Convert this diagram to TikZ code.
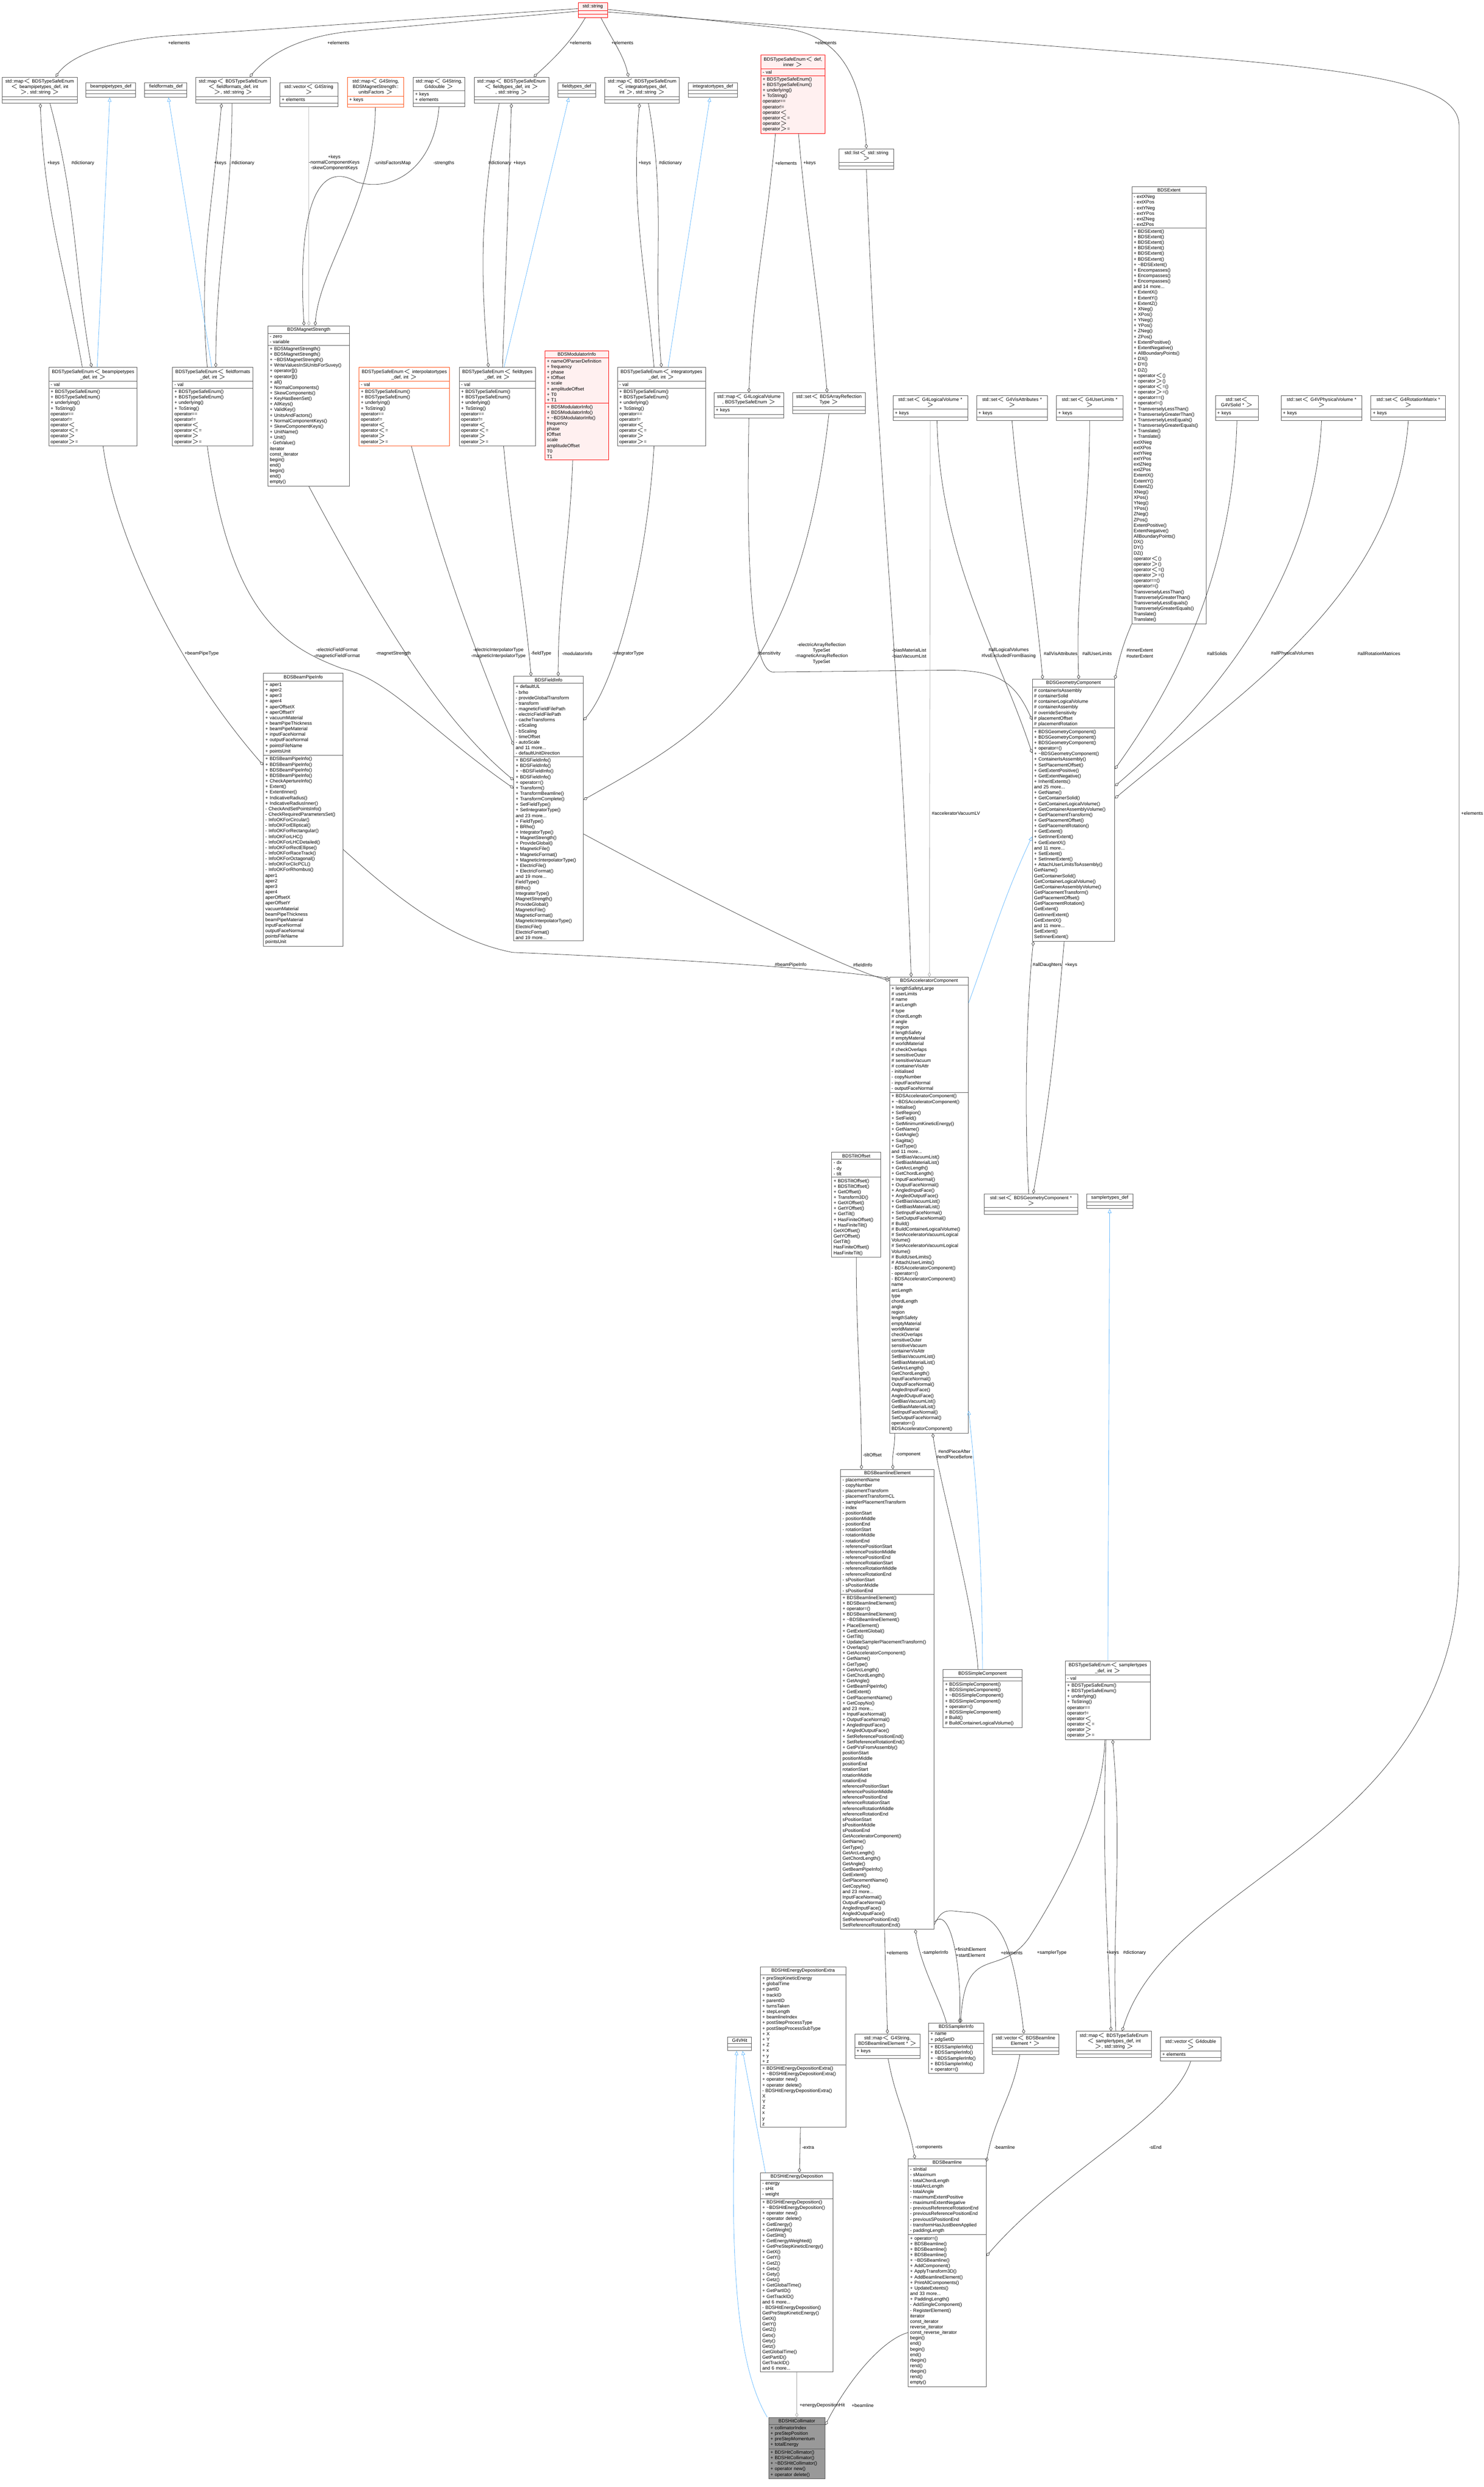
\documentclass[tikz,border=0pt]{standalone}
\usepackage{fontspec}
\setmainfont{Liberation Sans}
\usepackage{tikz}
\usetikzlibrary{arrows.meta}
\usetikzlibrary{shapes.multipart}
\definecolor{boxred}{RGB}{255,240,240}
\definecolor{inhblue}{RGB}{99,184,255}
\definecolor{orangered}{RGB}{255,80,20}
\definecolor{hitgray}{RGB}{153,153,153}

\begin{document}
\begin{tikzpicture}[
		umlbox/.style={rectangle split, rectangle split parts=3, draw=black!65, fill=white, line width=.35pt,
			font=\fontsize{3.6}{4.25}\selectfont, align=left, inner xsep=.05cm, inner ysep=.04cm,
			rectangle split empty part height=.1cm, anchor=north west},
		redbox/.style={draw=red, fill=boxred},
		orangebox/.style={draw=orangered},
		graybox/.style={fill=hitgray},
		lbl/.style={font=\fontsize{3.6}{4.25}\selectfont, align=center, inner sep=0},
		comp/.style={draw=black!75, line width=.3pt, {Diamond[open,length=3.6pt,width=2.4pt]}-},
		light/.style={draw=black!35},
		inh/.style={draw=inhblue, line width=.3pt, -{Triangle[open,length=3.2pt,width=2.8pt]}}]
	\useasboundingbox (0,0) rectangle (39.95,-66.98);

	% top row
	\node[umlbox,redbox,text width=.69cm] (str) at (15.56,-0.07) {{\centering std::string\par}\nodepart{two}\nodepart{three}};
	\node[umlbox,text width=1.92cm] (mapbp) at (0.05,-2.07) {{\centering std::map$<$ BDSTypeSafeEnum\\$<$ beampipetypes\_def, int\\ $>$, std::string $>$\par}\nodepart{two}\nodepart{three}};
	\node[umlbox,text width=1.24cm] (bpdef) at (2.31,-2.22) {{\centering beampipetypes\_def\par}\nodepart{two}\nodepart{three}};
	\node[umlbox,text width=1.04cm] (ffdef) at (3.89,-2.22) {{\centering fieldformats\_def\par}\nodepart{two}\nodepart{three}};
	\node[umlbox,text width=1.92cm] (mapff) at (5.26,-2.07) {{\centering std::map$<$ BDSTypeSafeEnum\\$<$ fieldformats\_def, int\\ $>$, std::string $>$\par}\nodepart{two}\nodepart{three}};
	\node[umlbox,text width=1.46cm] (vecstr) at (7.53,-2.22) {{\centering std::vector$<$ G4String $>$\par}\nodepart{two}+ elements\nodepart{three}};
	\node[umlbox,orangebox,text width=1.42cm] (mapuf) at (9.35,-2.07) {{\centering std::map$<$ G4String,\\ BDSMagnetStrength::\\unitsFactors $>$\par}\nodepart{two}+ keys\nodepart{three}};
	\node[umlbox,text width=1.29cm] (mapdbl) at (11.12,-2.07) {{\centering std::map$<$ G4String,\\ G4double $>$\par}\nodepart{two}+ keys\\+ elements\nodepart{three}};
	\node[umlbox,text width=1.91cm] (mapft) at (12.76,-2.07) {{\centering std::map$<$ BDSTypeSafeEnum\\$<$ fieldtypes\_def, int $>$\\, std::string $>$\par}\nodepart{two}\nodepart{three}};
	\node[umlbox,text width=.92cm] (ftdef) at (15.01,-2.22) {{\centering fieldtypes\_def\par}\nodepart{two}\nodepart{three}};
	\node[umlbox,text width=1.91cm] (mapit) at (16.28,-2.07) {{\centering std::map$<$ BDSTypeSafeEnum\\$<$ integratortypes\_def,\\ int $>$, std::string $>$\par}\nodepart{two}\nodepart{three}};
	\node[umlbox,text width=1.22cm] (itdef) at (18.53,-2.22) {{\centering integratortypes\_def\par}\nodepart{two}\nodepart{three}};
	\node[umlbox,redbox,text width=1.63cm] (endef) at (20.48,-1.48) {{\centering BDSTypeSafeEnum$<$ def,\\ inner $>$\par}\nodepart{two}- val\nodepart{three}+ BDSTypeSafeEnum()\\+ BDSTypeSafeEnum()\\+ underlying()\\+ ToString()\\* operator==\\* operator!=\\* operator$<$\\* operator$<$=\\* operator$>$\\* operator$>$=};
	\node[umlbox,text width=1.37cm] (lststr) at (22.59,-4.00) {{\centering std::list$<$ std::string $>$\par}\nodepart{two}\nodepart{three}};
	\node[umlbox,text width=1.90cm] (ext) at (30.47,-5.02) {{\centering BDSExtent\par}\nodepart{two}- extXNeg\\- extXPos\\- extYNeg\\- extYPos\\- extZNeg\\- extZPos\nodepart{three}+ BDSExtent()\\+ BDSExtent()\\+ BDSExtent()\\+ BDSExtent()\\+ BDSExtent()\\+ BDSExtent()\\+ \textasciitilde BDSExtent()\\+ Encompasses()\\+ Encompasses()\\+ Encompasses()\\and 14 more...\\+ ExtentX()\\+ ExtentY()\\+ ExtentZ()\\+ XNeg()\\+ XPos()\\+ YNeg()\\+ YPos()\\+ ZNeg()\\+ ZPos()\\+ ExtentPositive()\\+ ExtentNegative()\\+ AllBoundaryPoints()\\+ DX()\\+ DY()\\+ DZ()\\+ operator$<$()\\+ operator$>$()\\+ operator$<$=()\\+ operator$>$=()\\+ operator==()\\+ operator!=()\\+ TransverselyLessThan()\\+ TransverselyGreaterThan()\\+ TransverselyLessEquals()\\+ TransverselyGreaterEquals()\\+ Translate()\\+ Translate()\\* extXNeg\\* extXPos\\* extYNeg\\* extYPos\\* extZNeg\\* extZPos\\* ExtentX()\\* ExtentY()\\* ExtentZ()\\* XNeg()\\* XPos()\\* YNeg()\\* YPos()\\* ZNeg()\\* ZPos()\\* ExtentPositive()\\* ExtentNegative()\\* AllBoundaryPoints()\\* DX()\\* DY()\\* DZ()\\* operator$<$()\\* operator$>$()\\* operator$<$=()\\* operator$>$=()\\* operator==()\\* operator!=()\\* TransverselyLessThan()\\* TransverselyGreaterThan()\\* TransverselyLessEquals()\\* TransverselyGreaterEquals()\\* Translate()\\* Translate()};

	% second row
	\node[umlbox,text width=2.10cm] (ms) at (7.21,-8.77) {{\centering BDSMagnetStrength\par}\nodepart{two}- zero\\- variable\nodepart{three}+ BDSMagnetStrength()\\+ BDSMagnetStrength()\\+ \textasciitilde BDSMagnetStrength()\\+ WriteValuesInSIUnitsForSuvey()\\+ operator[]()\\+ operator[]()\\+ all()\\+ NormalComponents()\\+ SkewComponents()\\+ KeyHasBeenSet()\\+ AllKeys()\\+ ValidKey()\\+ UnitsAndFactors()\\+ NormalComponentKeys()\\+ SkewComponentKeys()\\+ UnitName()\\+ Unit()\\- GetValue()\\* iterator\\* const\_iterator\\* begin()\\* end()\\* begin()\\* end()\\* empty()};
	\node[umlbox,text width=2.28cm] (enbp) at (1.31,-9.89) {{\centering BDSTypeSafeEnum$<$ beampipetypes\\\_def, int $>$\par}\nodepart{two}- val\nodepart{three}+ BDSTypeSafeEnum()\\+ BDSTypeSafeEnum()\\+ underlying()\\+ ToString()\\* operator==\\* operator!=\\* operator$<$\\* operator$<$=\\* operator$>$\\* operator$>$=};
	\node[umlbox,text width=2.07cm] (enff) at (4.64,-9.89) {{\centering BDSTypeSafeEnum$<$ fieldformats\\\_def, int $>$\par}\nodepart{two}- val\nodepart{three}+ BDSTypeSafeEnum()\\+ BDSTypeSafeEnum()\\+ underlying()\\+ ToString()\\* operator==\\* operator!=\\* operator$<$\\* operator$<$=\\* operator$>$\\* operator$>$=};
	\node[umlbox,orangebox,text width=2.34cm] (enint) at (9.66,-9.89) {{\centering BDSTypeSafeEnum$<$ interpolatortypes\\\_def, int $>$\par}\nodepart{two}- val\nodepart{three}+ BDSTypeSafeEnum()\\+ BDSTypeSafeEnum()\\+ underlying()\\+ ToString()\\* operator==\\* operator!=\\* operator$<$\\* operator$<$=\\* operator$>$\\* operator$>$=};
	\node[umlbox,text width=1.95cm] (enft) at (12.36,-9.89) {{\centering BDSTypeSafeEnum$<$ fieldtypes\\\_def, int $>$\par}\nodepart{two}- val\nodepart{three}+ BDSTypeSafeEnum()\\+ BDSTypeSafeEnum()\\+ underlying()\\+ ToString()\\* operator==\\* operator!=\\* operator$<$\\* operator$<$=\\* operator$>$\\* operator$>$=};
	\node[umlbox,redbox,text width=1.61cm] (mod) at (14.67,-9.44) {{\centering BDSModulatorInfo\par}\nodepart{two}+ nameOfParserDefinition\\+ frequency\\+ phase\\+ tOffset\\+ scale\\+ amplitudeOffset\\+ T0\\+ T1\nodepart{three}+ BDSModulatorInfo()\\+ BDSModulatorInfo()\\+ \textasciitilde BDSModulatorInfo()\\* frequency\\* phase\\* tOffset\\* scale\\* amplitudeOffset\\* T0\\* T1};
	\node[umlbox,text width=2.27cm] (enit) at (16.62,-9.89) {{\centering BDSTypeSafeEnum$<$ integratortypes\\\_def, int $>$\par}\nodepart{two}- val\nodepart{three}+ BDSTypeSafeEnum()\\+ BDSTypeSafeEnum()\\+ underlying()\\+ ToString()\\* operator==\\* operator!=\\* operator$<$\\* operator$<$=\\* operator$>$\\* operator$>$=};
	\node[umlbox,text width=1.78cm] (maplv) at (19.22,-10.57) {{\centering std::map$<$ G4LogicalVolume\\ *, BDSTypeSafeEnum $>$\par}\nodepart{two}+ keys\nodepart{three}};
	\node[umlbox,text width=1.85cm] (setar) at (21.34,-10.57) {{\centering std::set$<$ BDSArrayReflection\\Type $>$\par}\nodepart{two}\nodepart{three}};
	\node[umlbox,text width=1.91cm] (setlv) at (24.04,-10.65) {{\centering std::set$<$ G4LogicalVolume * $>$\par}\nodepart{two}+ keys\nodepart{three}};
	\node[umlbox,text width=1.81cm] (setvis) at (26.29,-10.65) {{\centering std::set$<$ G4VisAttributes * $>$\par}\nodepart{two}+ keys\nodepart{three}};
	\node[umlbox,text width=1.69cm] (setul) at (28.44,-10.65) {{\centering std::set$<$ G4UserLimits * $>$\par}\nodepart{two}+ keys\nodepart{three}};
	\node[umlbox,text width=1.06cm] (setsol) at (32.72,-10.65) {{\centering std::set$<$ G4VSolid * $>$\par}\nodepart{two}+ keys\nodepart{three}};
	\node[umlbox,text width=2.08cm] (setpv) at (34.49,-10.65) {{\centering std::set$<$ G4VPhysicalVolume * $>$\par}\nodepart{two}+ keys\nodepart{three}};
	\node[umlbox,text width=1.91cm] (setrm) at (36.91,-10.65) {{\centering std::set$<$ G4RotationMatrix * $>$\par}\nodepart{two}+ keys\nodepart{three}};

	% third row
	\node[umlbox,text width=2.04cm] (bpi) at (7.09,-18.13) {{\centering BDSBeamPipeInfo\par}\nodepart{two}+ aper1\\+ aper2\\+ aper3\\+ aper4\\+ aperOffsetX\\+ aperOffsetY\\+ vacuumMaterial\\+ beamPipeThickness\\+ beamPipeMaterial\\+ inputFaceNormal\\+ outputFaceNormal\\+ pointsFileName\\+ pointsUnit\nodepart{three}+ BDSBeamPipeInfo()\\+ BDSBeamPipeInfo()\\+ BDSBeamPipeInfo()\\+ BDSBeamPipeInfo()\\+ CheckApertureInfo()\\+ Extent()\\+ ExtentInner()\\+ IndicativeRadius()\\+ IndicativeRadiusInner()\\- CheckAndSetPointsInfo()\\- CheckRequiredParametersSet()\\- InfoOKForCircular()\\- InfoOKForElliptical()\\- InfoOKForRectangular()\\- InfoOKForLHC()\\- InfoOKForLHCDetailed()\\- InfoOKForRectEllipse()\\- InfoOKForRaceTrack()\\- InfoOKForOctagonal()\\- InfoOKForClicPCL()\\- InfoOKForRhombus()\\* aper1\\* aper2\\* aper3\\* aper4\\* aperOffsetX\\* aperOffsetY\\* vacuumMaterial\\* beamPipeThickness\\* beamPipeMaterial\\* inputFaceNormal\\* outputFaceNormal\\* pointsFileName\\* pointsUnit};
	\node[umlbox,text width=1.77cm] (fi) at (13.83,-18.21) {{\centering BDSFieldInfo\par}\nodepart{two}+ defaultUL\\- brho\\- provideGlobalTransform\\- transform\\- magneticFieldFilePath\\- electricFieldFilePath\\- cacheTransforms\\- eScaling\\- bScaling\\- timeOffset\\- autoScale\\and 11 more...\\- defaultUnitDirection\nodepart{three}+ BDSFieldInfo()\\+ BDSFieldInfo()\\+ \textasciitilde BDSFieldInfo()\\+ BDSFieldInfo()\\+ operator=()\\+ Transform()\\+ TransformBeamline()\\+ TransformComplete()\\+ SetFieldType()\\+ SetIntegratorType()\\and 23 more...\\+ FieldType()\\+ BRho()\\+ IntegratorType()\\+ MagnetStrength()\\+ ProvideGlobal()\\+ MagneticFile()\\+ MagneticFormat()\\+ MagneticInterpolatorType()\\+ ElectricFile()\\+ ElectricFormat()\\and 19 more...\\* FieldType()\\* BRho()\\* IntegratorType()\\* MagnetStrength()\\* ProvideGlobal()\\* MagneticFile()\\* MagneticFormat()\\* MagneticInterpolatorType()\\* ElectricFile()\\* ElectricFormat()\\and 19 more...};
	\node[umlbox,text width=2.12cm] (geo) at (27.79,-18.29) {{\centering BDSGeometryComponent\par}\nodepart{two}\# containerIsAssembly\\\# containerSolid\\\# containerLogicalVolume\\\# containerAssembly\\\# overrideSensitivity\\\# placementOffset\\\# placementRotation\nodepart{three}+ BDSGeometryComponent()\\+ BDSGeometryComponent()\\+ BDSGeometryComponent()\\+ operator=()\\+ \textasciitilde BDSGeometryComponent()\\+ ContainerIsAssembly()\\+ SetPlacementOffset()\\+ GetExtentPositive()\\+ GetExtentNegative()\\+ InheritExtents()\\and 25 more...\\+ GetName()\\+ GetContainerSolid()\\+ GetContainerLogicalVolume()\\+ GetContainerAssemblyVolume()\\+ GetPlacementTransform()\\+ GetPlacementOffset()\\+ GetPlacementRotation()\\+ GetExtent()\\+ GetInnerExtent()\\+ GetExtentX()\\and 11 more...\\+ SetExtent()\\+ SetInnerExtent()\\+ AttachUserLimitsToAssembly()\\* GetName()\\* GetContainerSolid()\\* GetContainerLogicalVolume()\\* GetContainerAssemblyVolume()\\* GetPlacementTransform()\\* GetPlacementOffset()\\* GetPlacementRotation()\\* GetExtent()\\* GetInnerExtent()\\* GetExtentX()\\and 11 more...\\* SetExtent()\\* SetInnerExtent()};
	\node[umlbox,text width=2.02cm] (acc) at (23.95,-26.31) {{\centering BDSAcceleratorComponent\par}\nodepart{two}+ lengthSafetyLarge\\\# userLimits\\\# name\\\# arcLength\\\# type\\\# chordLength\\\# angle\\\# region\\\# lengthSafety\\\# emptyMaterial\\\# worldMaterial\\\# checkOverlaps\\\# sensitiveOuter\\\# sensitiveVacuum\\\# containerVisAttr\\- initialised\\- copyNumber\\- inputFaceNormal\\- outputFaceNormal\nodepart{three}+ BDSAcceleratorComponent()\\+ \textasciitilde BDSAcceleratorComponent()\\+ Initialise()\\+ SetRegion()\\+ SetField()\\+ SetMinimumKineticEnergy()\\+ GetName()\\+ GetAngle()\\+ Sagitta()\\+ GetType()\\and 11 more...\\+ SetBiasVacuumList()\\+ SetBiasMaterialList()\\+ GetArcLength()\\+ GetChordLength()\\+ InputFaceNormal()\\+ OutputFaceNormal()\\+ AngledInputFace()\\+ AngledOutputFace()\\+ GetBiasVacuumList()\\+ GetBiasMaterialList()\\+ SetInputFaceNormal()\\+ SetOutputFaceNormal()\\\# Build()\\\# BuildContainerLogicalVolume()\\\# SetAcceleratorVacuumLogical\\Volume()\\\# SetAcceleratorVacuumLogical\\Volume()\\\# BuildUserLimits()\\\# AttachUserLimits()\\- BDSAcceleratorComponent()\\- operator=()\\- BDSAcceleratorComponent()\\* name\\* arcLength\\* type\\* chordLength\\* angle\\* region\\* lengthSafety\\* emptyMaterial\\* worldMaterial\\* checkOverlaps\\* sensitiveOuter\\* sensitiveVacuum\\* containerVisAttr\\* SetBiasVacuumList()\\* SetBiasMaterialList()\\* GetArcLength()\\* GetChordLength()\\* InputFaceNormal()\\* OutputFaceNormal()\\* AngledInputFace()\\* AngledOutputFace()\\* GetBiasVacuumList()\\* GetBiasMaterialList()\\* SetInputFaceNormal()\\* SetOutputFaceNormal()\\* operator=()\\* BDSAcceleratorComponent()};
	\node[umlbox,text width=2.41cm] (setgc) at (26.50,-32.15) {{\centering std::set$<$ BDSGeometryComponent * $>$\par}\nodepart{two}\nodepart{three}};
	\node[umlbox,text width=1.15cm] (stdef) at (29.25,-32.15) {{\centering samplertypes\_def\par}\nodepart{two}\nodepart{three}};
	\node[umlbox,text width=1.22cm] (tilt) at (22.39,-31.03) {{\centering BDSTiltOffset\par}\nodepart{two}- dx\\- dy\\- tilt\nodepart{three}+ BDSTiltOffset()\\+ BDSTiltOffset()\\+ GetOffset()\\+ Transform3D()\\+ GetXOffset()\\+ GetYOffset()\\+ GetTilt()\\+ HasFiniteOffset()\\+ HasFiniteTilt()\\* GetXOffset()\\* GetYOffset()\\* GetTilt()\\* HasFiniteOffset()\\* HasFiniteTilt()};

	% lower part
	\node[umlbox,text width=2.42cm] (ble) at (22.63,-39.57) {{\centering BDSBeamlineElement\par}\nodepart{two}- placementName\\- copyNumber\\- placementTransform\\- placementTransformCL\\- samplerPlacementTransform\\- index\\- positionStart\\- positionMiddle\\- positionEnd\\- rotationStart\\- rotationMiddle\\- rotationEnd\\- referencePositionStart\\- referencePositionMiddle\\- referencePositionEnd\\- referenceRotationStart\\- referenceRotationMiddle\\- referenceRotationEnd\\- sPositionStart\\- sPositionMiddle\\- sPositionEnd\nodepart{three}+ BDSBeamlineElement()\\+ BDSBeamlineElement()\\+ operator=()\\+ BDSBeamlineElement()\\+ \textasciitilde BDSBeamlineElement()\\+ PlaceElement()\\+ GetExtentGlobal()\\+ GetTilt()\\+ UpdateSamplerPlacementTransform()\\+ Overlaps()\\+ GetAcceleratorComponent()\\+ GetName()\\+ GetType()\\+ GetArcLength()\\+ GetChordLength()\\+ GetAngle()\\+ GetBeamPipeInfo()\\+ GetExtent()\\+ GetPlacementName()\\+ GetCopyNo()\\and 23 more...\\+ InputFaceNormal()\\+ OutputFaceNormal()\\+ AngledInputFace()\\+ AngledOutputFace()\\+ SetReferencePositionEnd()\\+ SetReferenceRotationEnd()\\+ GetPVsFromAssembly()\\* positionStart\\* positionMiddle\\* positionEnd\\* rotationStart\\* rotationMiddle\\* rotationEnd\\* referencePositionStart\\* referencePositionMiddle\\* referencePositionEnd\\* referenceRotationStart\\* referenceRotationMiddle\\* referenceRotationEnd\\* sPositionStart\\* sPositionMiddle\\* sPositionEnd\\* GetAcceleratorComponent()\\* GetName()\\* GetType()\\* GetArcLength()\\* GetChordLength()\\* GetAngle()\\* GetBeamPipeInfo()\\* GetExtent()\\* GetPlacementName()\\* GetCopyNo()\\and 23 more...\\* InputFaceNormal()\\* OutputFaceNormal()\\* AngledInputFace()\\* AngledOutputFace()\\* SetReferencePositionEnd()\\* SetReferenceRotationEnd()};
	\node[umlbox,text width=2.02cm] (simple) at (25.39,-44.96) {{\centering BDSSimpleComponent\par}\nodepart{two}\nodepart{three}+ BDSSimpleComponent()\\+ BDSSimpleComponent()\\+ \textasciitilde BDSSimpleComponent()\\+ BDSSimpleComponent()\\+ operator=()\\+ BDSSimpleComponent()\\\# Build()\\\# BuildContainerLogicalVolume()};
	\node[umlbox,text width=2.19cm] (enst) at (28.68,-44.73) {{\centering BDSTypeSafeEnum$<$ samplertypes\\\_def, int $>$\par}\nodepart{two}- val\nodepart{three}+ BDSTypeSafeEnum()\\+ BDSTypeSafeEnum()\\+ underlying()\\+ ToString()\\* operator==\\* operator!=\\* operator$<$\\* operator$<$=\\* operator$>$\\* operator$>$=};
	\node[umlbox,text width=2.20cm] (hitx) at (20.47,-52.97) {{\centering BDSHitEnergyDepositionExtra\par}\nodepart{two}+ preStepKineticEnergy\\+ globalTime\\+ partID\\+ trackID\\+ parentID\\+ turnsTaken\\+ stepLength\\+ beamlineIndex\\+ postStepProcessType\\+ postStepProcessSubType\\+ X\\+ Y\\+ Z\\+ x\\+ y\\+ z\nodepart{three}+ BDSHitEnergyDepositionExtra()\\+ \textasciitilde BDSHitEnergyDepositionExtra()\\+ operator new()\\+ operator delete()\\- BDSHitEnergyDepositionExtra()\\* X\\* Y\\* Z\\* x\\* y\\* z};
	\node[umlbox,text width=.54cm] (vhit) at (19.59,-54.85) {{\centering G4VHit\par}\nodepart{two}\nodepart{three}};
	\node[umlbox,text width=1.66cm] (mapble) at (23.01,-54.77) {{\centering std::map$<$ G4String,\\ BDSBeamlineElement * $>$\par}\nodepart{two}+ keys\nodepart{three}};
	\node[umlbox,text width=1.38cm] (si) at (25.00,-54.48) {{\centering BDSSamplerInfo\par}\nodepart{two}+ name\\+ pdgSetID\nodepart{three}+ BDSSamplerInfo()\\+ BDSSamplerInfo()\\+ \textasciitilde BDSSamplerInfo()\\+ BDSSamplerInfo()\\+ operator=()};
	\node[umlbox,text width=1.69cm] (vecble) at (26.71,-54.77) {{\centering std::vector$<$ BDSBeamline\\Element * $>$\par}\nodepart{two}\nodepart{three}};
	\node[umlbox,text width=1.92cm] (mapst) at (28.98,-54.70) {{\centering std::map$<$ BDSTypeSafeEnum\\$<$ samplertypes\_def, int\\ $>$, std::string $>$\par}\nodepart{two}\nodepart{three}};
	\node[umlbox,text width=1.53cm] (vecdbl) at (31.24,-54.86) {{\centering std::vector$<$ G4double $>$\par}\nodepart{two}+ elements\nodepart{three}};
	\node[umlbox,text width=1.86cm] (hit) at (20.47,-58.51) {{\centering BDSHitEnergyDeposition\par}\nodepart{two}- energy\\- sHit\\- weight\nodepart{three}+ BDSHitEnergyDeposition()\\+ \textasciitilde BDSHitEnergyDeposition()\\+ operator new()\\+ operator delete()\\+ GetEnergy()\\+ GetWeight()\\+ GetSHit()\\+ GetEnergyWeighted()\\+ GetPreStepKineticEnergy()\\+ GetX()\\+ GetY()\\+ GetZ()\\+ Getx()\\+ Gety()\\+ Getz()\\+ GetGlobalTime()\\+ GetPartID()\\+ GetTrackID()\\and 6 more...\\- BDSHitEnergyDeposition()\\* GetPreStepKineticEnergy()\\* GetX()\\* GetY()\\* GetZ()\\* Getx()\\* Gety()\\* Getz()\\* GetGlobalTime()\\* GetPartID()\\* GetTrackID()\\and 6 more...};
	\node[umlbox,text width=2.00cm] (bl) at (24.45,-58.14) {{\centering BDSBeamline\par}\nodepart{two}- sInitial\\- sMaximum\\- totalChordLength\\- totalArcLength\\- totalAngle\\- maximumExtentPositive\\- maximumExtentNegative\\- previousReferenceRotationEnd\\- previousReferencePositionEnd\\- previousSPositionEnd\\- transformHasJustBeenApplied\\- paddingLength\nodepart{three}+ operator=()\\+ BDSBeamline()\\+ BDSBeamline()\\+ BDSBeamline()\\+ \textasciitilde BDSBeamline()\\+ AddComponent()\\+ ApplyTransform3D()\\+ AddBeamlineElement()\\+ PrintAllComponents()\\+ UpdateExtents()\\and 33 more...\\+ PaddingLength()\\- AddSingleComponent()\\- RegisterElement()\\* iterator\\* const\_iterator\\* reverse\_iterator\\* const\_reverse\_iterator\\* begin()\\* end()\\* begin()\\* end()\\* rbegin()\\* rend()\\* rbegin()\\* rend()\\* empty()};
	\node[umlbox,graybox,text width=1.42cm] (coll) at (20.69,-65.10) {{\centering BDSHitCollimator\par}\nodepart{two}+ collimatorIndex\\+ preStepPosition\\+ preStepMomentum\\+ totalEnergy\nodepart{three}+ BDSHitCollimator()\\+ BDSHitCollimator()\\+ \textasciitilde BDSHitCollimator()\\+ operator new()\\+ operator delete()};

	% std::string members
	\draw[comp] ([xshift=.43cm]mapbp.north) .. controls (1.9,-1.5) and (3.0,-1.05) .. (4.8,-0.95) -- ([yshift=.04cm]str.west);
	\draw[comp] ([xshift=.45cm]mapff.north) .. controls (7.2,-1.5) and (8.0,-1.0) .. (9.4,-0.85) -- ([yshift=-.03cm]str.west);
	\draw[comp] ([xshift=.60cm]mapft.north) .. controls (14.9,-1.6) and (15.4,-1.1) .. ([xshift=-.2cm]str.south);
	\draw[comp] ([xshift=-.37cm]mapit.north) .. controls (16.8,-1.5) and (16.5,-1.1) .. ([xshift=.22cm]str.south);
	\draw[comp] (lststr.north) .. controls (23.2,-2.0) and (22.6,-0.9) .. (21.0,-0.75) -- ([yshift=.02cm]str.east);
	\draw[comp] ([xshift=.22cm]mapst.north) .. controls (31.5,-50.5) and (39.29,-49.5) .. (39.29,-42) -- (39.29,-3.4) .. controls (39.29,-2.4) and (37.5,-2.0) .. (33,-1.6) -- ([yshift=-.05cm]str.east);
	\node[lbl] (l1) at (4.82,-1.15) {+elements};
	\node[lbl] (l2) at (9.11,-1.15) {+elements};
	\node[lbl] (l3) at (15.63,-1.15) {+elements};
	\node[lbl] (l4) at (16.76,-1.15) {+elements};
	\node[lbl] (l5) at (22.23,-1.15) {+elements};
	\node[lbl] (l6) at (39.64,-21.90) {+elements};

	% enums and their maps
	\draw[comp] ([xshift=.02cm]mapbp.south) to[out=-88,in=100] ([xshift=-.29cm]enbp.north);
	\draw[comp] ([xshift=-.04cm]enbp.north) to[out=100,in=-75] ([xshift=.28cm]mapbp.south);
	\draw[inh] ([xshift=.11cm]enbp.north) -- ([xshift=-.03cm]bpdef.south);
	\draw[comp] ([xshift=-.31cm]mapff.south) to[out=-95,in=95] ([xshift=-.15cm]enff.north);
	\draw[comp] ([xshift=.08cm]enff.north) to[out=90,in=-90] ([xshift=-.03cm]mapff.south);
	\draw[inh] ([xshift=-.03cm]enff.north) -- ([xshift=.07cm]ffdef.south);
	\draw[comp] (mapft.south) -- ([xshift=.14cm]enft.north);
	\draw[comp] ([xshift=-.24cm]enft.north) to[out=95,in=-100] ([xshift=-.33cm]mapft.south);
	\draw[inh] ([xshift=.18cm]enft.north) -- ([xshift=-.21cm]ftdef.south);
	\draw[comp] ([xshift=-.07cm]mapit.south) to[out=-95,in=95] ([xshift=-.2cm]enit.north);
	\draw[comp] (enit.north) to[out=95,in=-80] ([xshift=.17cm]mapit.south);
	\draw[inh] ([xshift=.18cm]enit.north) -- ([xshift=-.08cm]itdef.south);
	\draw[comp] ([xshift=-.08cm]mapst.north) to[out=92,in=-92] ([xshift=-.05cm]enst.south);
	\draw[comp] ([xshift=.13cm]enst.south) to[out=-85,in=92] ([xshift=.05cm]mapst.north);
	\draw[inh] (enst.north) -- (stdef.south);
	\node[lbl] (l7) at (1.44,-4.39) {+keys};
	\node[lbl] (l8) at (2.23,-4.39) {\#dictionary};
	\node[lbl] (l9) at (5.93,-4.39) {+keys};
	\node[lbl] (l10) at (6.54,-4.39) {\#dictionary};
	\node[lbl] (l11) at (13.46,-4.39) {\#dictionary};
	\node[lbl] (l12) at (13.99,-4.39) {+keys};
	\node[lbl] (l13) at (17.36,-4.39) {+keys};
	\node[lbl] (l14) at (18.05,-4.39) {\#dictionary};
	\node[lbl] (l15) at (29.96,-52.59) {+keys};
	\node[lbl] (l16) at (30.55,-52.59) {\#dictionary};

	% BDSMagnetStrength
	\draw[comp,light] (ms.north) -- (vecstr.south);
	\draw[comp] ([xshift=.17cm]ms.north) .. controls (8.6,-7.2) and (10.1,-5.4) .. ([xshift=-.01cm]mapuf.south);
	\draw[comp] ([xshift=-.13cm]ms.north) .. controls (8.0,-5.5) and (8.6,-4.3) .. (9.6,-4.9) .. controls (10.6,-5.2) and (11.7,-4.5) .. (mapdbl.south);
	\node[lbl] (l17) at (9.00,-4.38) {+keys\\-normalComponentKeys\\-skewComponentKeys};
	\node[lbl] (l18) at (10.57,-4.39) {-unitsFactorsMap};
	\node[lbl] (l19) at (11.95,-4.39) {-strengths};

	% BDSTypeSafeEnum< def, inner >
	\draw[comp] (maplv.north) to[out=88,in=-95] ([xshift=-.47cm]endef.south);
	\draw[comp] ([xshift=-.05cm]setar.north) to[out=95,in=-85] ([xshift=.15cm]endef.south);
	\node[lbl] (l20) at (21.16,-4.39) {+elements};
	\node[lbl] (l21) at (21.80,-4.39) {+keys};

	% BDSFieldInfo and BDSBeamPipeInfo
	\draw[comp] ([yshift=-2.48cm]bpi.north west) .. controls (4.8,-18.0) and (3.1,-14.5) .. ([xshift=.27cm]enbp.south);
	\draw[comp] ([yshift=-3.02cm]fi.north west) .. controls (11.5,-19.6) and (10.5,-18.3) .. (9.2,-18.0) .. controls (7.6,-17.4) and (6.2,-16.5) .. ([xshift=-.15cm]enff.south);
	\draw[comp] ([yshift=-2.80cm]fi.north west) .. controls (12.0,-19.5) and (10.4,-17.0) .. (ms.south);
	\draw[comp] ([yshift=-1.86cm]fi.north west) .. controls (12.8,-17.5) and (12.0,-15.5) .. ([xshift=.19cm]enint.south);
	\draw[comp] ([xshift=-.47cm]fi.north) to[out=95,in=-85] ([xshift=.17cm]enft.south);
	\draw[comp] ([xshift=.26cm]fi.north) to[out=90,in=-92] ([xshift=-.11cm]mod.south);
	\draw[comp] ([yshift=-1.19cm]fi.north east) .. controls (16.5,-18.5) and (17.4,-15.5) .. ([xshift=-.2cm]enit.south);
	\draw[comp] ([yshift=-3.33cm]fi.north east) .. controls (18.8,-19.8) and (21.5,-18.5) .. (setar.south);
	\node[lbl] (l22) at (5.43,-17.60) {+beamPipeType};
	\node[lbl] (l23) at (9.07,-17.59) {-electricFieldFormat\\-magneticFieldFormat};
	\node[lbl] (l24) at (10.59,-17.60) {-magnetStrength};
	\node[lbl] (l25) at (13.42,-17.59) {-electricInterpolatorType\\-magneticInterpolatorType};
	\node[lbl] (l26) at (14.57,-17.60) {-fieldType};
	\node[lbl] (l27) at (15.54,-17.60) {-modulatorInfo};
	\node[lbl] (l28) at (16.91,-17.60) {-integratorType};

	% BDSGeometryComponent
	\draw[comp] ([yshift=-1.10cm]geo.north west) .. controls (27.3,-18.3) and (26.8,-18.05) .. (25.5,-18.05) -- (20.8,-18.1) .. controls (20.2,-18.0) and (20.1,-15) .. (maplv.south);
	\draw[comp] ([yshift=-1.99cm]geo.north west) .. controls (26.9,-17.6) and (25.3,-15) .. ([xshift=.18cm]setlv.south);
	\draw[comp] ([xshift=-.83cm]geo.north) to[out=95,in=-85] (setvis.south);
	\draw[comp] ([xshift=.14cm]geo.north) to[out=92,in=-90] (setul.south);
	\draw[comp] (geo.north east) .. controls (30.2,-17.4) and (30.4,-17.0) .. (ext.south west);
	\draw[comp] ([yshift=-2.42cm]geo.north east) .. controls (31.6,-18.5) and (33.2,-15.5) .. (setsol.south);
	\draw[comp] ([yshift=-2.88cm]geo.north east) .. controls (32.8,-18.8) and (35.4,-15.5) .. (setpv.south);
	\draw[comp] ([yshift=-3.21cm]geo.north east) .. controls (33.5,-18.6) and (37.6,-16.0) .. (setrm.south);
	\draw[comp] ([xshift=-1.08cm]geo.south) .. controls (27.6,-27.5) and (27.6,-30.5) .. ([xshift=-.06cm]setgc.north);
	\draw[comp] ([xshift=.06cm]setgc.north) to[out=80,in=-95] ([xshift=-.25cm]geo.south);
	\draw[inh] ([yshift=-.70cm]acc.north east) to[out=70,in=-115] ([yshift=-.71cm]geo.west);
	\node[lbl] (l29) at (20.71,-17.60) {\#sensitivity};
	\node[lbl] (l30) at (22.12,-17.60) {-electricArrayReflection\\TypeSet\\-magneticArrayReflection\\TypeSet};
	\node[lbl] (l31) at (27.16,-17.59) {\#allLogicalVolumes\\\#lvsExcludedFromBiasing};
	\node[lbl] (l32) at (28.56,-17.60) {\#allVisAttributes};
	\node[lbl] (l33) at (29.54,-17.60) {\#allUserLimits};
	\node[lbl] (l34) at (30.69,-17.59) {\#innerExtent\\\#outerExtent};
	\node[lbl] (l35) at (32.77,-17.60) {\#allSolids};
	\node[lbl] (l36) at (34.80,-17.60) {\#allPhysicalVolumes};
	\node[lbl] (l37) at (37.13,-17.60) {\#allRotationMatrices};
	\node[lbl] (l38) at (28.20,-25.99) {\#allDaughters};
	\node[lbl] (l39) at (28.84,-25.99) {+keys};

	% BDSAcceleratorComponent
	\draw[comp] ([xshift=-.48cm]acc.north) to[out=92,in=-88] (lststr.south);
	\draw[comp,light] ([xshift=.01cm]acc.north) -- (setlv.south);
	\draw[comp] ([yshift=-.04cm]acc.north west) .. controls (22,-26.05) and (17.5,-25.8) .. (13.8,-25.65) .. controls (12,-25.3) and (10.5,-24.0) .. ([yshift=-4.75cm]bpi.north east);
	\draw[comp] ([yshift=-.10cm]acc.north west) .. controls (22.8,-26.1) and (19.5,-24.5) .. ([yshift=-4.25cm]fi.north east);
	\draw[comp] ([xshift=.10cm]acc.south) .. controls (25.3,-40) and (26.2,-43) .. ([xshift=-.12cm]simple.north);
	\draw[inh] (simple.north) .. controls (26.45,-42) and (26.3,-40) .. ([yshift=.61cm]acc.south east);
	\node[lbl] (l40) at (25.74,-21.90) {\#acceleratorVacuumLV};
	\node[lbl] (l41) at (21.29,-25.99) {\#beamPipeInfo};
	\node[lbl] (l42) at (23.23,-25.99) {\#fieldInfo};
	\node[lbl] (l43) at (24.48,-17.59) {-biasMaterialList\\-biasVacuumList};
	\node[lbl] (l44) at (25.70,-39.17) {\#endPieceAfter\\\#endPieceBefore};

	% BDSBeamlineElement
	\draw[comp] ([xshift=.15cm]ble.north) to[out=95,in=-90] ([xshift=-.92cm]acc.south);
	\draw[comp] ([xshift=-.70cm]ble.north) to[out=90,in=-90] (tilt.south);
	\draw[comp] (mapble.north) -- ([xshift=-.08cm]ble.south);
	\draw[comp] ([xshift=.75cm]ble.south) .. controls (24.8,-53.0) and (25.3,-53.8) .. ([xshift=-.26cm]si.north);
	\draw[comp] ([xshift=.09cm]si.north) .. controls (25.9,-53.0) and (25.6,-51.3) .. ([yshift=.2cm]ble.south east);
	\draw[comp] ([xshift=-.04cm]vecble.north) .. controls (27.3,-52.5) and (27.0,-51.6) .. (26.1,-51.5) .. controls (25.6,-51.5) and (25.4,-51.3) .. ([yshift=.13cm]ble.south east);
	\draw[comp] ([xshift=.12cm]si.north) .. controls (26.0,-52.3) and (26.9,-53.3) .. (27.7,-52.2) .. controls (28.8,-50.5) and (29.7,-48.5) .. ([xshift=-.08cm]enst.south);
	\node[lbl] (l45) at (23.49,-39.18) {-tiltOffset};
	\node[lbl] (l46) at (24.45,-39.18) {-component};
	\node[lbl] (l47) at (24.16,-52.59) {+elements};
	\node[lbl] (l48) at (25.18,-52.59) {-samplerInfo};
	\node[lbl] (l49) at (26.13,-52.58) {+finishElement\\+startElement};
	\node[lbl] (l50) at (27.24,-52.59) {+elements};
	\node[lbl] (l51) at (28.32,-52.59) {+samplerType};

	% BDSBeamline and hits
	\draw[comp] ([xshift=-.87cm]bl.north) to[out=100,in=-80] ([xshift=.02cm]mapble.south);
	\draw[comp] ([yshift=-.08cm]bl.north east) to[out=80,in=-100] ([xshift=-.15cm]vecble.south);
	\draw[comp] ([yshift=-2.62cm]bl.north east) .. controls (28.5,-58.5) and (31.6,-57.0) .. (vecdbl.south);
	\draw[comp] ([xshift=.07cm]hit.north) -- ([xshift=-.07cm]hitx.south);
	\draw[comp,light] (coll.north) -- (hit.south);
	\draw[comp] ([yshift=-.21cm]coll.north east) .. controls (22.9,-64.0) and (23.8,-63.0) .. ([yshift=-4.68cm]bl.north west);
	\draw[inh] ([xshift=.14cm]hit.north west) -- ([xshift=.08cm]vhit.south);
	\draw[inh] ([xshift=-.03cm]coll.north west) .. controls (19.7,-63.5) and (19.65,-60) .. ([xshift=-.08cm]vhit.south);
	\node[lbl] (l52) at (21.76,-57.83) {-extra};
	\node[lbl] (l53) at (25.01,-57.83) {-components};
	\node[lbl] (l54) at (27.05,-57.83) {-beamline};
	\node[lbl] (l55) at (31.11,-57.83) {-sEnd};
	\node[lbl] (l56) at (22.14,-64.78) {+energyDepositionHit};
	\node[lbl] (l57) at (23.23,-64.78) {+beamline};
\end{tikzpicture}
\end{document}
